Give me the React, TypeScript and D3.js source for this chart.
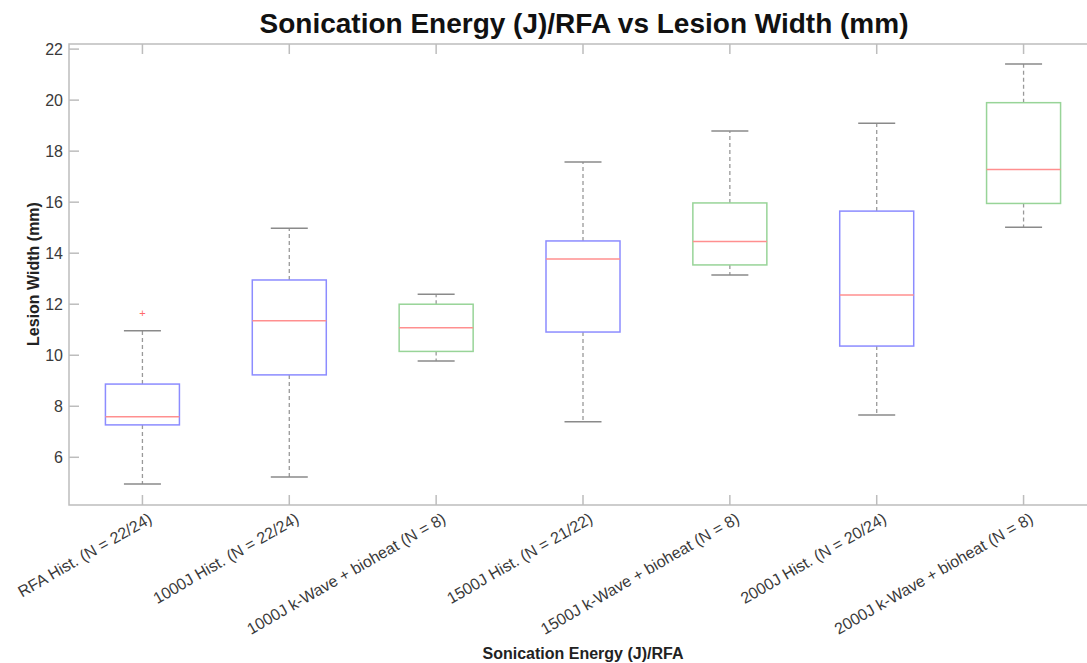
import * as d3 from 'd3'
import { useEffect, useRef } from 'react'

const groups = [
  'RFA Hist. (N = 22/24)',
  '1000J Hist. (N = 22/24)',
  '1000J k-Wave + bioheat (N = 8)',
  '1500J Hist. (N = 21/22)',
  '1500J k-Wave + bioheat (N = 8)',
  '2000J Hist. (N = 20/24)',
  '2000J k-Wave + bioheat (N = 8)',
]
const kinds = ['hist', 'hist', 'kwave', 'hist', 'kwave', 'hist', 'kwave']
const lowWhisker = [4.95, 5.23, 9.77, 7.39, 13.15, 7.66, 15.02]
const q1 = [7.27, 9.23, 10.15, 10.91, 13.54, 10.36, 15.95]
const median = [7.59, 11.35, 11.08, 13.77, 14.46, 12.36, 17.28]
const q3 = [8.87, 12.95, 12.0, 14.48, 15.97, 15.65, 19.9]
const highWhisker = [10.96, 14.98, 12.39, 17.57, 18.79, 19.09, 21.42]
const outliers = [[11.64], [], [], [], [], [], []]
const yTicks = [6, 8, 10, 12, 14, 16, 18, 20, 22]

export default function App() {
  const svgRef = useRef(null)

  useEffect(() => {
    const width = 1087, height = 663
    const left = 69, right = 1097, top = 44, bottom = 505
    const svg = d3.select(svgRef.current)
    svg.selectAll('*').remove()

    const x = d3.scaleLinear().domain([0.5, 7.5]).range([left, right])
    const y = d3.scaleLinear().domain([4.13, 22.2]).range([bottom, top])
    const axisColor = '#bdbdbd'
    const textColor = '#3a3a3a'
    const font = '"Liberation Sans", Arial, sans-serif'

    // frame
    svg.append('rect')
      .attr('x', left).attr('y', top)
      .attr('width', right - left).attr('height', bottom - top)
      .attr('fill', 'none').attr('stroke', axisColor).attr('stroke-width', 1.5)

    // y ticks
    const yg = svg.append('g')
    yTicks.forEach(t => {
      yg.append('line').attr('x1', left).attr('x2', left + 10)
        .attr('y1', y(t)).attr('y2', y(t))
        .attr('stroke', axisColor).attr('stroke-width', 1.5)
      yg.append('text').attr('x', left - 6).attr('y', y(t))
        .attr('dy', '0.35em').attr('text-anchor', 'end')
        .attr('fill', textColor).style('font', `16px ${font}`)
        .text(t)
    })

    // x ticks
    const xg = svg.append('g')
    groups.forEach((g, i) => {
      const cx = x(i + 1)
      xg.append('line').attr('x1', cx).attr('x2', cx)
        .attr('y1', bottom).attr('y2', bottom - 10)
        .attr('stroke', axisColor).attr('stroke-width', 1.5)
      xg.append('line').attr('x1', cx).attr('x2', cx)
        .attr('y1', top).attr('y2', top + 10)
        .attr('stroke', axisColor).attr('stroke-width', 1.5)
      xg.append('text')
        .attr('transform', `translate(${cx + 8},${bottom + 12}) rotate(-30)`)
        .attr('text-anchor', 'end').attr('dy', '0.35em')
        .attr('fill', textColor).style('font', `16px ${font}`)
        .text(g)
    })

    // boxes
    const bw = 37, cap = 18.5
    groups.forEach((g, i) => {
      const cx = x(i + 1)
      const boxColor = kinds[i] === 'hist' ? '#8c8cff' : '#98d498'
      const b = svg.append('g')
      b.append('line').attr('x1', cx).attr('x2', cx)
        .attr('y1', y(q3[i])).attr('y2', y(highWhisker[i]))
        .attr('stroke', '#999').attr('stroke-width', 1.3).attr('stroke-dasharray', '4,3')
      b.append('line').attr('x1', cx).attr('x2', cx)
        .attr('y1', y(q1[i])).attr('y2', y(lowWhisker[i]))
        .attr('stroke', '#999').attr('stroke-width', 1.3).attr('stroke-dasharray', '4,3')
      ;[highWhisker[i], lowWhisker[i]].forEach(v => {
        b.append('line').attr('x1', cx - cap).attr('x2', cx + cap)
          .attr('y1', y(v)).attr('y2', y(v))
          .attr('stroke', '#8a8a8a').attr('stroke-width', 1.5)
      })
      b.append('rect').attr('x', cx - bw).attr('width', bw * 2)
        .attr('y', y(q3[i])).attr('height', y(q1[i]) - y(q3[i]))
        .attr('fill', 'white').attr('stroke', boxColor).attr('stroke-width', 1.5)
      b.append('line').attr('x1', cx - bw).attr('x2', cx + bw)
        .attr('y1', y(median[i])).attr('y2', y(median[i]))
        .attr('stroke', '#ff8f8f').attr('stroke-width', 1.5)
      outliers[i].forEach(v => {
        b.append('text').attr('x', cx).attr('y', y(v))
          .attr('dy', '0.35em').attr('text-anchor', 'middle')
          .attr('fill', '#ff6b6b').style('font', `11px ${font}`)
          .text('+')
      })
    })

    // title and labels
    svg.append('text').attr('x', 584).attr('y', 33)
      .attr('text-anchor', 'middle').attr('fill', '#111')
      .style('font', `bold 28px ${font}`)
      .text('Sonication Energy (J)/RFA vs Lesion Width (mm)')
    svg.append('text').attr('x', 583).attr('y', 659)
      .attr('text-anchor', 'middle').attr('fill', '#222')
      .style('font', `bold 16px ${font}`)
      .text('Sonication Energy (J)/RFA')
    svg.append('text')
      .attr('transform', `translate(39,274) rotate(-90)`)
      .attr('text-anchor', 'middle').attr('fill', '#222')
      .style('font', `bold 16px ${font}`)
      .text('Lesion Width (mm)')

    svg.attr('width', width).attr('height', height)
  }, [])

  return (
    <svg ref={svgRef} width={1087} height={663}
      style={{ position: 'absolute', left: 0, top: 0, background: 'white' }} />
  )
}
